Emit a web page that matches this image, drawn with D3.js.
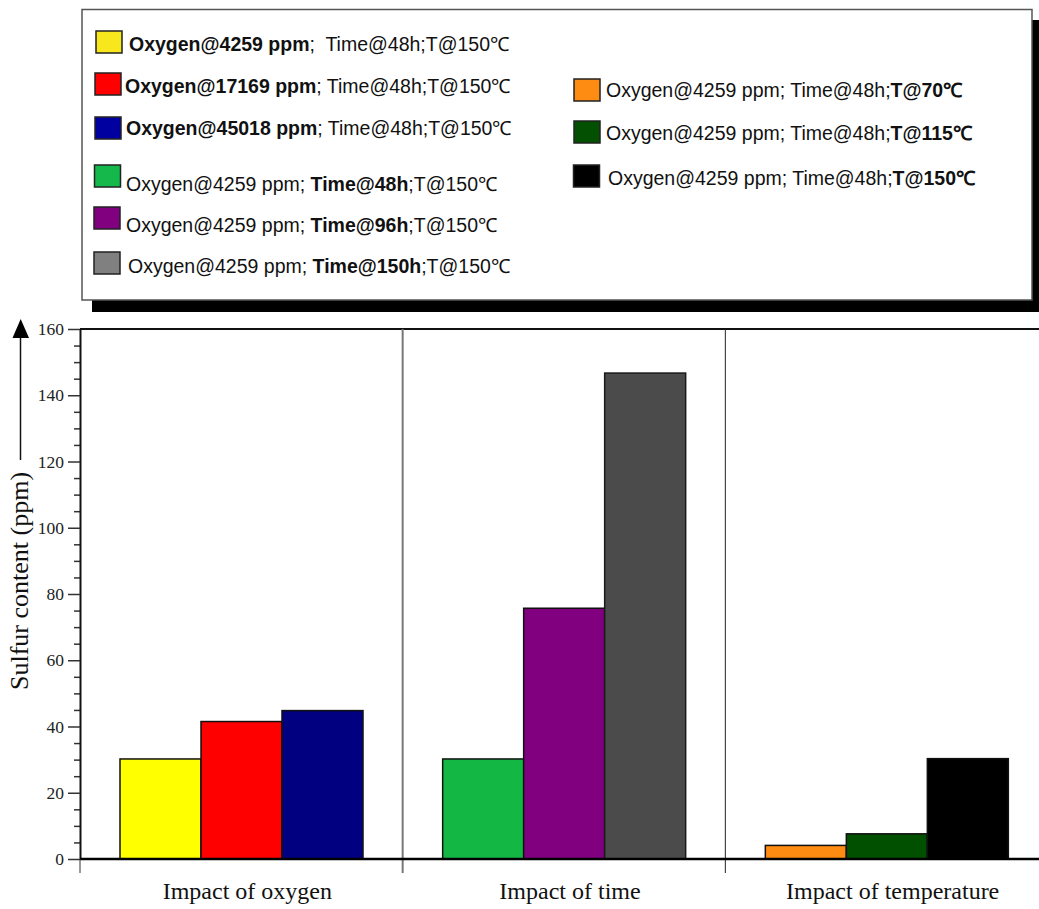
<!DOCTYPE html>
<html>
<head>
<meta charset="utf-8">
<script src="https://cdn.jsdelivr.net/npm/d3@7"></script>
<style>
  html, body { margin: 0; padding: 0; background: #fff; }
  svg { display: block; }
</style>
</head>
<body>
<svg id="chart" width="1039" height="909"></svg>
<script>
// ---------- data ----------
const categories = ["Impact of oxygen", "Impact of time", "Impact of temperature"];
const oxygenValues = [30.2, 41.5, 44.8];
const timeValues = [30.2, 75.7, 146.7];
const temperatureValues = [4.1, 7.6, 30.3];
const seriesValues = [oxygenValues, timeValues, temperatureValues];
const barColors = [
  ["#ffff00", "#ff0000", "#000080"],
  ["#12b843", "#800080", "#4b4b4b"],
  ["#ff8c12", "#005000", "#000000"]
];
const yTicks = [0, 20, 40, 60, 80, 100, 120, 140, 160];
const yLabel = "Sulfur content (ppm)";

// legend entries: segments [text, bold]
const legendLeft = [
  { color: "#f8e71c", segs: [["Oxygen@4259 ppm", true], [";  Time@48h;T@150\u2103", false]] },
  { color: "#ff0000", segs: [["Oxygen@17169 ppm", true], ["; Time@48h;T@150\u2103", false]] },
  { color: "#0000a0", segs: [["Oxygen@45018 ppm", true], ["; Time@48h;T@150\u2103", false]] },
  { color: "#15b84a", segs: [["Oxygen@4259 ppm; ", false], ["Time@48h", true], [";T@150\u2103", false]] },
  { color: "#800080", segs: [["Oxygen@4259 ppm; ", false], ["Time@96h", true], [";T@150\u2103", false]] },
  { color: "#808080", segs: [["Oxygen@4259 ppm; ", false], ["Time@150h", true], [";T@150\u2103", false]] }
];
const legendRight = [
  { color: "#ff8c12", segs: [["Oxygen@4259 ppm; Time@48h;", false], ["T@70\u2103", true]] },
  { color: "#035003", segs: [["Oxygen@4259 ppm; Time@48h;", false], ["T@115\u2103", true]] },
  { color: "#000000", segs: [["Oxygen@4259 ppm; Time@48h;", false], ["T@150\u2103", true]] }
];

(function () {
// ---------- layout ----------
const svg = d3.select("#chart");
const pLeft = 80, pTop = 329, pBottom = 859, bandRight = 1048;

const x0 = d3.scaleBand().domain(categories).range([pLeft, bandRight]).paddingInner(0).paddingOuter(0);
const x1 = d3.scaleBand().domain([0, 1, 2]).range([40, 283]).padding(0);
const y = d3.scaleLinear().domain([0, 160]).range([pBottom, pTop]);

// ---------- legend ----------
const lg = svg.append("g");
lg.append("rect").attr("x", 92).attr("y", 20).attr("width", 950).attr("height", 292).attr("fill", "#000");
lg.append("rect").attr("x", 82).attr("y", 9.5).attr("width", 950).attr("height", 290.5)
  .attr("fill", "#fff").attr("stroke", "#555").attr("stroke-width", 1.5);

const leftRows = [
  { sy: 31, ty: 51, sx: 96, tx: 129 },
  { sy: 73, ty: 93, sx: 95, tx: 125 },
  { sy: 117, ty: 135, sx: 95, tx: 126 },
  { sy: 165, ty: 191, sx: 94.5, tx: 126 },
  { sy: 207, ty: 232, sx: 94, tx: 126 },
  { sy: 252, ty: 273, sx: 94, tx: 128 }
];
const rightRows = [
  { sy: 79, ty: 97, sx: 574, tx: 606 },
  { sy: 121, ty: 140, sx: 574, tx: 606 },
  { sy: 165, ty: 185, sx: 573.5, tx: 608 }
];

function drawLegend(entries, rows) {
  entries.forEach((e, i) => {
    const r = rows[i];
    lg.append("rect").attr("x", r.sx).attr("y", r.sy).attr("width", 26).attr("height", 22)
      .attr("fill", e.color).attr("stroke", "#222").attr("stroke-width", 1.5);
    const t = lg.append("text").attr("x", r.tx).attr("y", r.ty)
      .attr("font-family", "'Liberation Sans', Arial, sans-serif")
      .attr("font-size", 19.5).attr("fill", "#111")
      .style("white-space", "pre");
    e.segs.forEach(s => {
      t.append("tspan").attr("font-weight", s[1] ? "bold" : "normal").text(s[0]);
    });
  });
}
drawLegend(legendLeft, leftRows);
drawLegend(legendRight, rightRows);

// ---------- plot frame ----------
svg.append("line").attr("x1", pLeft).attr("x2", 1039).attr("y1", pTop).attr("y2", pTop)
  .attr("stroke", "#111").attr("stroke-width", 2);

const seps = [x0(categories[1]), x0(categories[2])];
svg.append("line").attr("x1", seps[0]).attr("x2", seps[0]).attr("y1", pTop).attr("y2", 873)
  .attr("stroke", "#777").attr("stroke-width", 2);
svg.append("line").attr("x1", seps[1]).attr("x2", seps[1]).attr("y1", pTop).attr("y2", 873)
  .attr("stroke", "#222").attr("stroke-width", 1);

// ---------- bars ----------
const groups = svg.append("g").selectAll("g").data(categories).join("g")
  .attr("transform", d => `translate(${x0(d)},0)`);
groups.selectAll("rect").data((d, i) => seriesValues[i].map((v, j) => ({ v, j, c: barColors[i][j] })))
  .join("rect")
  .attr("x", d => x1(d.j))
  .attr("width", x1.bandwidth())
  .attr("y", d => y(d.v))
  .attr("height", d => y(0) - y(d.v))
  .attr("fill", d => d.c)
  .attr("stroke", d => d.c === "#4b4b4b" ? "#1a1a1a" : "#111")
  .attr("stroke-width", 1.5);

// ---------- y axis ----------
const minorTicks = d3.range(0, 161, 5).filter(v => v % 20 !== 0);
const yMinor = svg.append("g").attr("transform", `translate(${pLeft},0)`)
  .call(d3.axisLeft(y).tickValues(minorTicks).tickSize(6).tickFormat(""));
yMinor.select(".domain").remove();
yMinor.selectAll("line").attr("stroke", "#333").attr("stroke-width", 1.5);

const yAxis = svg.append("g").attr("transform", `translate(${pLeft},0)`)
  .call(d3.axisLeft(y).tickValues(yTicks).tickSize(12).tickPadding(4).tickSizeOuter(0));
yAxis.select(".domain").attr("stroke", "#111").attr("stroke-width", 2);
yAxis.selectAll("line").attr("stroke", "#333").attr("stroke-width", 1.5);
yAxis.selectAll("text").attr("font-family", "'Liberation Serif', 'Times New Roman', serif")
  .attr("font-size", 17.5).attr("fill", "#222");

// ---------- x axis ----------
svg.append("line").attr("x1", pLeft).attr("x2", 1039).attr("y1", pBottom).attr("y2", pBottom)
  .attr("stroke", "#000").attr("stroke-width", 2.5);
svg.append("line").attr("x1", pLeft).attr("x2", pLeft).attr("y1", pBottom).attr("y2", 873)
  .attr("stroke", "#333").attr("stroke-width", 1);

svg.append("g").selectAll("text").data(categories).join("text")
  .attr("x", d => x0(d) + x0.bandwidth() / 2 + 6)
  .attr("y", 899)
  .attr("text-anchor", "middle")
  .attr("font-family", "'Liberation Serif', 'Times New Roman', serif")
  .attr("font-size", 24).attr("fill", "#111")
  .text(d => d);

// ---------- y label with arrow ----------
svg.append("text")
  .attr("transform", "translate(28,581) rotate(-90)")
  .attr("text-anchor", "middle")
  .attr("font-family", "'Liberation Serif', 'Times New Roman', serif")
  .attr("font-size", 26).attr("fill", "#111")
  .text(yLabel);
svg.append("line").attr("x1", 20.5).attr("x2", 20.5).attr("y1", 460).attr("y2", 336)
  .attr("stroke", "#111").attr("stroke-width", 1.5);
svg.append("path").attr("d", "M12.5,338 L29,338 L20.7,319 Z").attr("fill", "#000");
})();
</script>
</body>
</html>
